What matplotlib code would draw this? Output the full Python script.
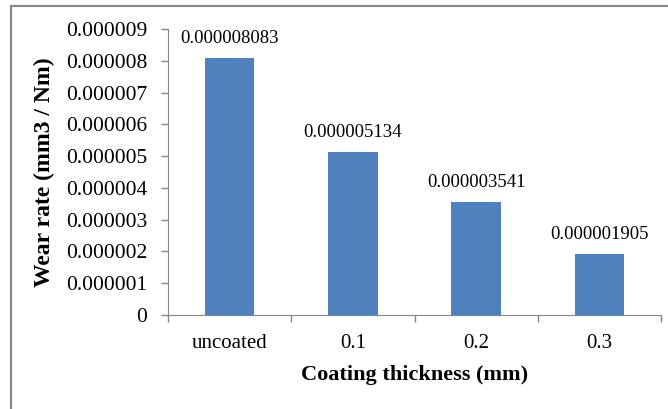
import matplotlib
matplotlib.use("Agg")
import matplotlib.pyplot as plt
from matplotlib.patches import Rectangle
import numpy as np

categories = ["uncoated", "0.1", "0.2", "0.3"]
wear_rate = [0.000008083, 0.000005134, 0.000003541, 0.000001905]
wear_labels = ["0.000008083", "0.000005134", "0.000003541", "0.000001905"]
y_ticks = [0, 0.000001, 0.000002, 0.000003, 0.000004, 0.000005,
           0.000006, 0.000007, 0.000008, 0.000009]
y_tick_labels = ["0", "0.000001", "0.000002", "0.000003", "0.000004", "0.000005",
                 "0.000006", "0.000007", "0.000008", "0.000009"]

plt.rcParams["font.family"] = ["Liberation Serif", "DejaVu Serif"]
axis_grey = "#868686"

fig = plt.figure(figsize=(6.68, 4.09), dpi=100)
ax = fig.add_axes([168 / 668, 1 - 315 / 409, 493 / 668, 286 / 409])

x = np.arange(len(categories))
bars = ax.bar(x, wear_rate, width=0.4, color="#4F81BD", zorder=2)

for b, lab in zip(bars, wear_labels):
    ax.annotate(lab, (b.get_x() + b.get_width() / 2, b.get_height()),
                xytext=(0, 8), textcoords="offset points",
                ha="center", va="bottom", fontsize=13.5)

ax.set_xlim(-0.5, len(categories) - 0.5)
ax.set_ylim(0, 0.000009)
ax.set_yticks(y_ticks)
ax.set_yticklabels(y_tick_labels, fontsize=15.5)
ax.set_xticks(x)
ax.set_xticklabels(categories, fontsize=15)
ax.set_xticks(np.arange(len(categories) + 1) - 0.5, minor=True)
ax.tick_params(axis="x", which="major", length=0, pad=14)
ax.tick_params(axis="x", which="minor", length=5, color=axis_grey, width=1)
ax.tick_params(axis="y", length=5, color=axis_grey, width=1, pad=10)

for s in ["top", "right"]:
    ax.spines[s].set_visible(False)
for s in ["left", "bottom"]:
    ax.spines[s].set_color(axis_grey)

ax.set_ylabel("Wear rate (mm3 / Nm)", fontsize=17, fontweight="bold")
ax.yaxis.set_label_coords(-0.23, 0.50)
ax.set_xlabel("Coating thickness (mm)", fontsize=16, fontweight="bold")
ax.xaxis.set_label_coords(0.5, -0.175)

# chart frame (cut off on right/bottom like the source)
fig.patches.append(Rectangle((11 / 668, -0.1), 1.2, 1 - 6 / 409 + 0.1,
                             transform=fig.transFigure, fill=False,
                             edgecolor=axis_grey, linewidth=1.5))

fig.savefig("out.png", dpi=100)
